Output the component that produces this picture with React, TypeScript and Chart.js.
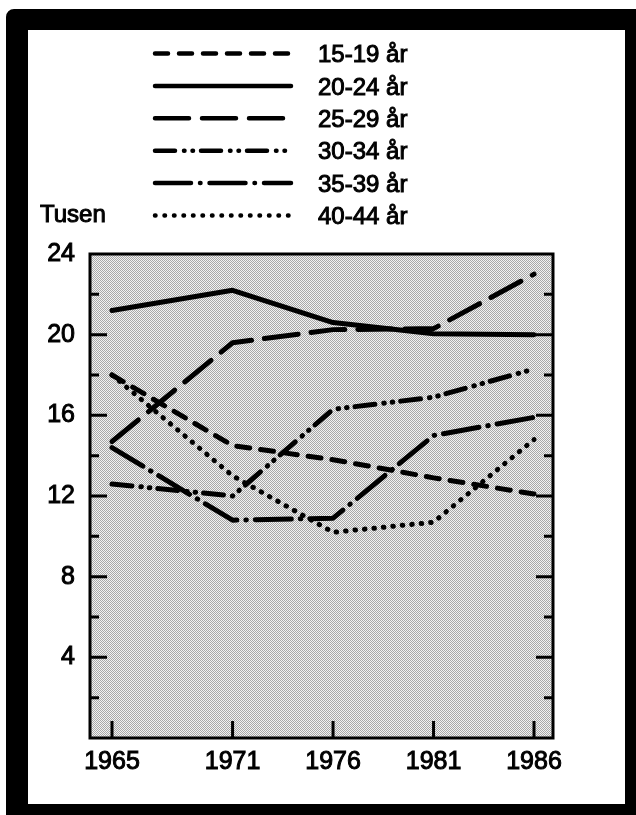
import React, { useEffect, useRef } from 'react';
import { Chart, registerables } from 'chart.js';

Chart.register(...registerables);

// ---- data ----
const years = [1965, 1971, 1976, 1981, 1986];
const ageGroups = ['15-19 år', '20-24 år', '25-29 år', '30-34 år', '35-39 år', '40-44 år'];
const s15_19 = [18.0, 14.5, 13.8, 12.9, 12.1];
const s20_24 = [21.2, 22.2, 20.6, 20.05, 20.0];
const s25_29 = [14.7, 19.6, 20.25, 20.3, 23.0];
const s30_34 = [12.6, 12.0, 16.3, 16.9, 18.3];
const s35_39 = [14.4, 10.8, 10.9, 15.0, 15.9];
const s40_44 = [18.0, 13.0, 10.2, 10.7, 14.8];
const yAxisTitle = 'Tusen';
const yMin = 0;
const yMax = 24;
const yStep = 2;
const yLabelStep = 4;

// ---- styles ----
const FONT = '"Liberation Sans", Arial, Helvetica, sans-serif';
const dashes: number[][] = [
  [13, 11],
  [],
  [34, 13],
  [20, 9, 0.5, 8, 0.5, 8],
  [36, 9, 0.5, 9],
  [0.5, 9],
];

const seriesList = [s15_19, s20_24, s25_29, s30_34, s35_39, s40_44];

const decorPlugin = {
  id: 'decor',
  beforeDatasetsDraw(chart: any) {
    const { ctx, chartArea } = chart;
    const pc = document.createElement('canvas');
    pc.width = 2;
    pc.height = 2;
    const p = pc.getContext('2d')!;
    p.fillStyle = '#f2f2f2';
    p.fillRect(0, 0, 2, 2);
    p.fillStyle = '#a8a8a8';
    p.fillRect(0, 0, 1, 1);
    p.fillRect(1, 1, 1, 1);
    ctx.save();
    ctx.fillStyle = ctx.createPattern(pc, 'repeat');
    ctx.fillRect(chartArea.left, chartArea.top, chartArea.right - chartArea.left, chartArea.bottom - chartArea.top);
    ctx.restore();
  },
  afterDatasetsDraw(chart: any) {
    const { ctx, chartArea, scales } = chart;
    const { left, right, top, bottom } = chartArea;
    ctx.save();
    ctx.strokeStyle = '#000';
    ctx.lineCap = 'butt';
    ctx.setLineDash([]);
    ctx.lineWidth = 3;
    scales.y.ticks.forEach((t: any) => {
      const v = t.value;
      if (v <= yMin || v >= yMax) return;
      const py = scales.y.getPixelForValue(v);
      const len = v % yLabelStep === 0 ? 17 : 9;
      ctx.beginPath();
      ctx.moveTo(left, py);
      ctx.lineTo(left + len, py);
      ctx.moveTo(right, py);
      ctx.lineTo(right - len, py);
      ctx.stroke();
    });
    scales.x.ticks.forEach((t: any) => {
      const px = scales.x.getPixelForValue(t.value);
      ctx.beginPath();
      ctx.moveTo(px, bottom);
      ctx.lineTo(px, bottom - 17);
      ctx.stroke();
    });
    ctx.lineWidth = 3;
    ctx.strokeRect(left, top, right - left, bottom - top);

    // legend
    const ds = chart.data.datasets;
    ds.forEach((d: any, i: number) => {
      const cy = 53.5 + i * 32.4;
      ctx.beginPath();
      ctx.lineWidth = 4.5;
      ctx.lineCap = 'round';
      ctx.strokeStyle = '#000';
      ctx.setLineDash(d.borderDash || []);
      ctx.moveTo(155, cy);
      ctx.lineTo(291, cy);
      ctx.stroke();
      ctx.setLineDash([]);
      ctx.fillStyle = '#000';
      ctx.font = `24px ${FONT}`;
      ctx.textAlign = 'left';
      ctx.textBaseline = 'alphabetic';
      ctx.lineWidth = 1;
      ctx.lineCap = 'butt';
      ctx.fillText(d.label, 318, cy + 8.7);
      ctx.strokeText(d.label, 318, cy + 8.7);
    });
    ctx.fillStyle = '#000';
    ctx.font = `24px ${FONT}`;
    ctx.textAlign = 'left';
    ctx.textBaseline = 'alphabetic';
    ctx.lineWidth = 1;
    ctx.fillText(yAxisTitle, 40, 222);
    ctx.strokeText(yAxisTitle, 40, 222);
    ctx.restore();
  },
};

export default function App() {
  const ref = useRef<HTMLCanvasElement | null>(null);

  useEffect(() => {
    if (!ref.current) return;
    const chart = new Chart(ref.current, {
      type: 'line',
      data: {
        datasets: ageGroups.map((label, i) => ({
          label,
          data: years.map((x, j) => ({ x, y: seriesList[i][j] })),
          borderColor: '#000',
          backgroundColor: '#000',
          borderWidth: 5,
          borderDash: dashes[i],
          borderCapStyle: 'round',
          borderJoinStyle: 'round',
          pointRadius: 0,
          tension: 0,
          fill: false,
        })),
      },
      options: {
        animation: false,
        responsive: false,
        devicePixelRatio: 1,
        events: [],
        layout: { padding: { left: 0, right: 83, top: 254, bottom: 0 } },
        plugins: {
          legend: { display: false },
          tooltip: { enabled: false },
          title: { display: false },
        },
        scales: {
          x: {
            type: 'linear',
            min: 1963.905,
            max: 1986.945,
            afterBuildTicks: (s: any) => {
              s.ticks = years.map((v) => ({ value: v }));
            },
            afterFit: (s: any) => {
              s.height = 77;
            },
            grid: { display: false, drawTicks: false, tickLength: 0 },
            border: { display: false },
            ticks: {
              color: '#000',
              font: { family: FONT, size: 25 },
              textStrokeColor: '#000',
              textStrokeWidth: 1,
              padding: 9,
              maxRotation: 0,
              autoSkip: false,
              callback: (v: any) => String(v),
            },
          },
          y: {
            type: 'linear',
            min: yMin,
            max: yMax,
            afterFit: (s: any) => {
              s.width = 90;
            },
            grid: { display: false, drawTicks: false, tickLength: 0 },
            border: { display: false },
            ticks: {
              stepSize: yStep,
              color: '#000',
              font: { family: FONT, size: 25 },
              textStrokeColor: '#000',
              textStrokeWidth: 1,
              padding: 15,
              autoSkip: false,
              callback: (v: any) => (v > 0 && v % yLabelStep === 0 ? String(v) : ''),
            },
          },
        },
      },
      plugins: [decorPlugin],
    } as any);
    return () => chart.destroy();
  }, []);

  return (
    <div
      style={{
        position: 'absolute',
        left: 0,
        top: 0,
        width: 636,
        height: 815,
        overflow: 'hidden',
        background: '#fff',
      }}
    >
      <canvas ref={ref} width={636} height={815} style={{ position: 'absolute', left: 0, top: 0 }} />
      <div
        style={{
          position: 'absolute',
          left: 6,
          top: 9,
          width: 597,
          height: 774,
          border: '22px solid #000',
          borderTopWidth: 21,
          borderRadius: 8,
          pointerEvents: 'none',
        }}
      />
    </div>
  );
}
